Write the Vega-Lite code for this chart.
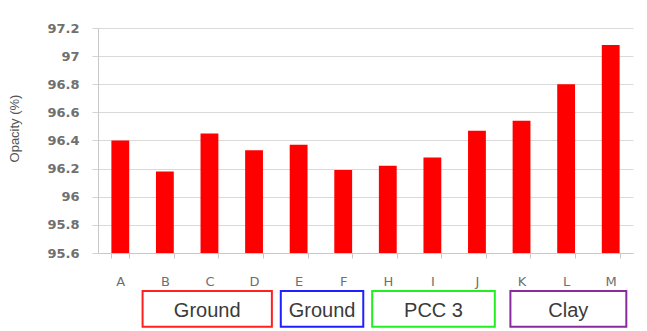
{
  "$schema": "https://vega.github.io/schema/vega-lite/v6.json",
  "width": 535,
  "height": 225,
  "autosize": "none",
  "padding": {"left": 98, "top": 28, "right": 14, "bottom": 78},
  "config": {
    "view": {"stroke": null},
    "font": "DejaVu Sans",
    "axisY": {
      "titleFont": "Liberation Sans", "titleFontSize": 13, "titleY": 100,
      "titleFontWeight": "normal", "titleColor": "#555555", "titlePadding": 25,
      "labelFontSize": 13, "labelFontWeight": "bold", "labelColor": "#707070",
      "labelPadding": 13, "tickSize": 6, "tickColor": "#d4d4d4", "labelOverlap": false,
      "domainColor": "#c8c8c8", "gridColor": "#d9d9d9", "grid": true
    }
  },
  "layer": [
    {
      "data": {"values": [
        {"sample": "A", "opacity": 96.40},
        {"sample": "B", "opacity": 96.18},
        {"sample": "C", "opacity": 96.45},
        {"sample": "D", "opacity": 96.33},
        {"sample": "E", "opacity": 96.37},
        {"sample": "F", "opacity": 96.19},
        {"sample": "H", "opacity": 96.22},
        {"sample": "I", "opacity": 96.28},
        {"sample": "J", "opacity": 96.47},
        {"sample": "K", "opacity": 96.54},
        {"sample": "L", "opacity": 96.80},
        {"sample": "M", "opacity": 97.08}
      ]},
      "mark": {"type": "bar", "color": "#ff0000"},
      "encoding": {
        "x": {
          "field": "sample", "type": "nominal", "sort": null,
          "scale": {"domain": ["A","B","C","D","E","F","H","I","J","K","L","M"], "paddingInner": 0.6, "paddingOuter": 0.3},
          "axis": {
            "title": null, "labelAngle": 0, "labelFontSize": 13, "labelColor": "#6f6f6f",
            "labelPadding": 17, "tickSize": 5, "tickBand": "extent",
            "domainColor": "#c8c8c8", "tickColor": "#c8c8c8", "grid": false
          }
        },
        "y": {
          "field": "opacity", "type": "quantitative",
          "scale": {"domain": [95.6, 97.2], "zero": false, "nice": false},
          "axis": {"values": [95.6, 95.8, 96, 96.2, 96.4, 96.6, 96.8, 97, 97.2], "format": "~g", "title": "Opacity (%)"}
        },
        "y2": {"datum": 95.6}
      }
    },
    {
      "data": {"values": [
        {"group": "Ground", "set": 1, "start": 1.0, "end": 3.9},
        {"group": "Ground", "set": 2, "start": 4.1, "end": 5.95},
        {"group": "PCC 3", "set": 3, "start": 6.15, "end": 8.9},
        {"group": "Clay", "set": 4, "start": 9.25, "end": 11.85}
      ]},
      "layer": [
        {
          "mark": {"type": "rect", "fill": "white", "strokeWidth": 2},
          "encoding": {
            "x": {"field": "start", "type": "quantitative", "scale": {"domain": [0, 12], "nice": false, "zero": false}, "axis": null},
            "x2": {"field": "end"},
            "y": {"datum": 95.33, "type": "quantitative", "axis": {"values": [95.6, 95.8, 96, 96.2, 96.4, 96.6, 96.8, 97, 97.2], "format": "~g", "title": "Opacity (%)"}},
            "y2": {"datum": 95.075},
            "stroke": {"field": "set", "type": "nominal", "scale": {"range": ["#ff2020", "#2020ff", "#22ee22", "#8a2a9e"]}, "legend": null}
          }
        },
        {
          "transform": [{"calculate": "(datum.start + datum.end) / 2", "as": "mid"}],
          "mark": {"type": "text", "font": "Liberation Sans", "fontSize": 20, "color": "#3a3a3a", "baseline": "middle", "align": "center"},
          "encoding": {
            "x": {"field": "mid", "type": "quantitative", "scale": {"domain": [0, 12], "nice": false, "zero": false}, "axis": null},
            "y": {"datum": 95.19, "type": "quantitative", "axis": {"values": [95.6, 95.8, 96, 96.2, 96.4, 96.6, 96.8, 97, 97.2], "format": "~g", "title": "Opacity (%)"}},
            "text": {"field": "group"}
          }
        }
      ]
    }
  ],
  "resolve": {"scale": {"x": "independent"}}
}
